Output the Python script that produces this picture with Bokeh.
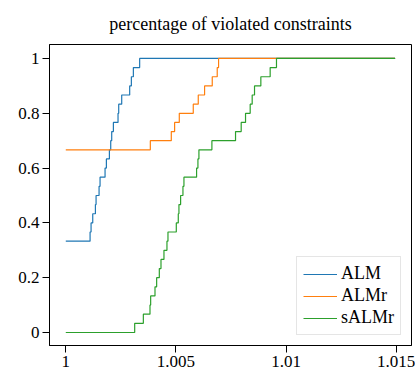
from bokeh.plotting import figure
from bokeh.models import FixedTicker, Range1d, Legend
from bokeh.embed import file_html
from bokeh.resources import INLINE

N_PROBLEMS = 30
X_START = 1.0
X_END = 1.01495

# jump locations (performance ratio) for each solver; each jump adds 1/30
alm_start = 10
alm_jumps = [1.001103, 1.001148, 1.001224, 1.001345, 1.001375, 1.001511, 1.001556,
             1.001783, 1.001843, 1.001980, 1.002040, 1.002085, 1.002161, 1.002372,
             1.002403, 1.002539, 1.002901, 1.002977, 1.003068, 1.003354]

almr_start = 20
almr_jumps = [1.003838, 1.004790, 1.004941, 1.005153, 1.005787, 1.006014, 1.006301,
              1.006649, 1.006875, 1.006936]

salmr_start = 0
salmr_jumps = [1.003128, 1.003521, 1.003823, 1.003853, 1.004050, 1.004125, 1.004246,
               1.004322, 1.004457, 1.004593, 1.004639, 1.005017, 1.005107, 1.005137,
               1.005213, 1.005319, 1.005364, 1.005938, 1.005999, 1.006044, 1.006633,
               1.007706, 1.007963, 1.008160, 1.008371, 1.008462, 1.008568, 1.008855,
               1.009278, 1.009565]

series_names = ["ALM", "ALMr", "sALMr"]
colors = ["#1f77b4", "#ff7f0e", "#2ca02c"]

x_ticks = [1.0, 1.005, 1.01, 1.015]
x_tick_labels = ["1", "1.005", "1.01", "1.015"]
y_ticks = [0, 0.2, 0.4, 0.6, 0.8, 1.0]
y_tick_labels = ["0", "0.2", "0.4", "0.6", "0.8", "1"]

FONT = "Liberation Serif"


def profile(start, jumps):
    xs = [X_START] + list(jumps) + [X_END]
    ys = [start / N_PROBLEMS]
    k = start
    for _ in jumps:
        k += 1
        ys.append(k / N_PROBLEMS)
    ys.append(ys[-1])
    return xs, ys


p = figure(width=415, height=374, output_backend="svg", toolbar_location=None,
           title="percentage of violated constraints",
           x_range=Range1d(0.999261, 1.015694), y_range=Range1d(-0.0475, 1.051),
           min_border_left=49, min_border_right=4, min_border_top=44, min_border_bottom=29)

p.title.align = "center"
p.title.text_font = FONT
p.title.text_font_size = "18px"
p.title.text_font_style = "normal"
p.title.text_color = "black"
p.title.standoff = 22

p.xgrid.visible = False
p.ygrid.visible = False
p.outline_line_color = "black"
p.outline_line_width = 1
p.outline_line_alpha = 1

renderers = []
for name, color, (start, jumps) in zip(series_names, colors,
                                       [(alm_start, alm_jumps), (almr_start, almr_jumps),
                                        (salmr_start, salmr_jumps)]):
    xs, ys = profile(start, jumps)
    r = p.step(xs, ys, mode="after", line_color=color, line_width=1.2)
    renderers.append((name, [r]))

for ax in (p.xaxis[0], p.yaxis[0]):
    ax.axis_line_color = "black"
    ax.major_tick_line_color = "black"
    ax.minor_tick_line_color = None
    ax.major_tick_out = 7
    ax.major_tick_in = 0
    ax.major_label_text_font = FONT
    ax.major_label_text_font_size = "17px"
    ax.major_label_text_color = "black"
    ax.major_label_standoff = 3

p.xaxis[0].ticker = FixedTicker(ticks=x_ticks)
p.xaxis[0].major_label_overrides = dict(zip(x_ticks, x_tick_labels))
p.yaxis[0].ticker = FixedTicker(ticks=y_ticks)
p.yaxis[0].major_label_overrides = dict(zip(y_ticks, y_tick_labels))

legend = Legend(items=renderers, location="bottom_right")
legend.label_text_font = FONT
legend.label_text_font_size = "18px"
legend.label_text_color = "black"
legend.border_line_color = "#cccccc"
legend.border_line_width = 1
legend.background_fill_alpha = 0.8
legend.glyph_width = 34
legend.glyph_height = 20
legend.label_height = 20
legend.label_standoff = 4
legend.spacing = 1
legend.padding = 6
legend.margin = 10
p.add_layout(legend, "center")

open("out.html", "w").write(file_html(p, INLINE))
